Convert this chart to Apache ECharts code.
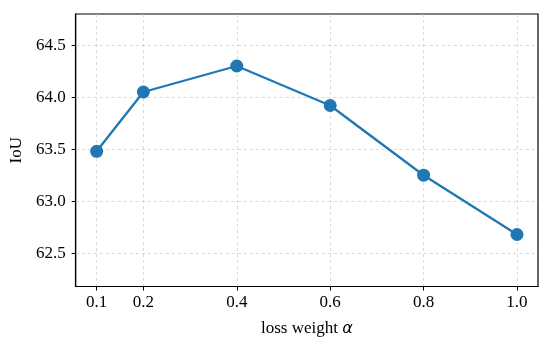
<!DOCTYPE html>
<html>
<head>
<meta charset="utf-8">
<script src="https://cdn.jsdelivr.net/npm/echarts@6/dist/echarts.min.js"></script>
<style>html,body{margin:0;padding:0;background:#fff}#c{width:550px;height:345px}</style>
</head>
<body>
<div id="c"></div>
<script>
const alphaValues = [0.1, 0.2, 0.4, 0.6, 0.8, 1.0];
const iouValues = [63.48, 64.05, 64.30, 63.92, 63.25, 62.68];
const xTicks = [0.1, 0.2, 0.4, 0.6, 0.8, 1.0];
const yTicks = [62.5, 63.0, 63.5, 64.0, 64.5];

const chart = echarts.init(document.getElementById('c'), null, {renderer: 'canvas'});
const font = 'Liberation Serif';
const fs = 17;
const gridLine = {show: true, lineStyle: {color: '#d0d0d0', type: [3, 3], width: 0.8}};
chart.setOption({
  animation: false,
  backgroundColor: '#fff',
  grid: {left: 74.5, right: 12, top: 14, bottom: 58.5, show: true, borderColor: '#000', borderWidth: 1.2, backgroundColor: 'transparent'},
  xAxis: {
    type: 'value', min: 0.055, max: 1.045,
    name: 'loss weight {a|α}', nameLocation: 'middle', nameGap: 34,
    nameTextStyle: {fontFamily: font, fontSize: fs, color: '#000',
      rich: {a: {fontFamily: 'DejaVu Sans', fontStyle: 'italic', fontSize: 16, color: '#000'}}},
    axisLine: {show: true, onZero: false, lineStyle: {color: '#000', width: 1.2}},
    axisTick: {show: true, length: 4, inside: false, customValues: xTicks, lineStyle: {color: '#000', width: 1}},
    axisLabel: {customValues: xTicks, margin: 8, fontFamily: font, fontSize: fs, color: '#000',
      formatter: v => v.toFixed(1)},
    splitLine: Object.assign({customValues: xTicks}, gridLine)
  },
  yAxis: {
    type: 'value', min: 62.18, max: 64.8,
    name: 'IoU', nameLocation: 'middle', nameGap: 49, nameRotate: 90,
    nameTextStyle: {fontFamily: font, fontSize: fs, color: '#000'},
    axisLine: {show: true, onZero: false, lineStyle: {color: '#000', width: 1.2}},
    axisTick: {show: true, length: 4, inside: false, customValues: yTicks, lineStyle: {color: '#000', width: 1}},
    axisLabel: {customValues: yTicks, margin: 10, fontFamily: font, fontSize: fs, color: '#000',
      formatter: v => v.toFixed(1)},
    splitLine: Object.assign({customValues: yTicks}, gridLine)
  },
  series: [{
    type: 'line',
    data: alphaValues.map((a, i) => [a, iouValues[i]]),
    symbol: 'circle', symbolSize: 13,
    lineStyle: {color: '#1f77b4', width: 2.3},
    itemStyle: {color: '#1f77b4'}
  }]
});
</script>
</body>
</html>
